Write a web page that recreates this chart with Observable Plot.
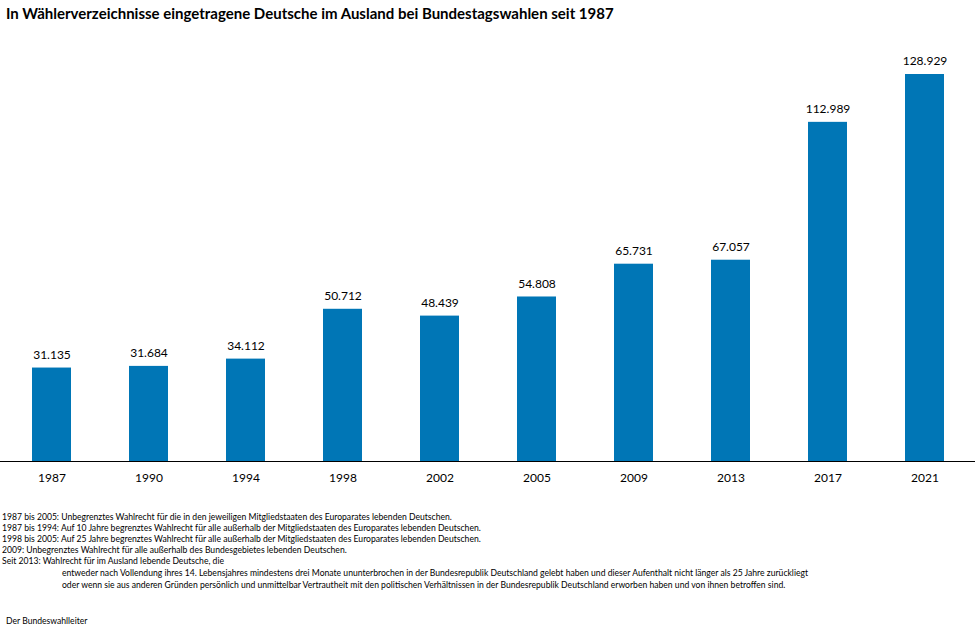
<!DOCTYPE html>
<html><head><meta charset="utf-8">
<script src="https://cdn.jsdelivr.net/npm/d3@7"></script>
<script src="https://cdn.jsdelivr.net/npm/@observablehq/plot@0.6"></script>
<style>
body{margin:0;background:#fff;font-family:Lato,"Open Sans",sans-serif;color:#000;width:975px;height:630px;position:relative;overflow:hidden}
#title{position:absolute;left:6px;top:4px;font-weight:bold;font-size:15px;white-space:nowrap;font-family:Lato,sans-serif}
#chart{position:absolute;left:0;top:30px}
.fn{position:absolute;font-size:8.6px;white-space:nowrap;font-family:Lato,sans-serif;color:#000}
</style></head>
<body>
<div id="title">In Wählerverzeichnisse eingetragene Deutsche im Ausland bei Bundestagswahlen seit 1987</div>
<div id="chart"></div>
<div id="notes"></div>
<script>
const years = ["1987","1990","1994","1998","2002","2005","2009","2013","2017","2021"];
const voters = [31135,31684,34112,50712,48439,54808,65731,67057,112989,128929];
const notes = [
  "1987 bis 2005: Unbegrenztes Wahlrecht  für die in den jeweiligen  Mitgliedstaaten  des Europarates lebenden Deutschen.",
  "1987 bis 1994: Auf 10 Jahre begrenztes Wahlrecht für alle außerhalb der Mitgliedstaaten  des Europarates lebenden Deutschen.",
  "1998 bis 2005: Auf 25 Jahre begrenztes Wahlrecht für alle außerhalb der Mitgliedstaaten  des Europarates lebenden Deutschen.",
  "2009: Unbegrenztes Wahlrecht  für alle außerhalb des Bundesgebietes lebenden Deutschen.",
  "Seit 2013: Wahlrecht für im Ausland lebende Deutsche, die"
];
const subnotes = [
  "entweder nach Vollendung ihres 14. Lebensjahres mindestens drei Monate ununterbrochen in der Bundesrepublik Deutschland gelebt haben und dieser Aufenthalt nicht länger als 25 Jahre zurückliegt",
  "oder wenn sie aus anderen Gründen persönlich und unmittelbar Vertrautheit mit den politischen Verhältnissen in der Bundesrepublik Deutschland erworben haben und von ihnen betroffen sind."
];
const source = "Der Bundeswahlleiter";

const de = d3.formatLocale({decimal: ",", thousands: ".", grouping: [3], currency: ["", " €"]});
const fmt = de.format(",d");
const data = years.map((y, i) => ({year: y, value: voters[i]}));

const plot = Plot.plot({
  width: 975,
  height: 455,
  marginLeft: 0,
  marginRight: 0,
  marginTop: 44,
  marginBottom: 24,
  style: {fontFamily: "Lato, sans-serif", fontSize: "12px", color: "#000", background: "#fff"},
  x: {domain: years, paddingInner: 0.6, paddingOuter: 0.3, label: null, tickSize: 0, tickPadding: 12},
  y: {domain: [0, d3.max(voters)], axis: null},
  marks: [
    Plot.barY(data, {x: "year", y: "value", fill: "#0076b6"}),
    Plot.text(data, {x: "year", y: "value", text: d => fmt(d.value), dy: -13, fontSize: 12, fill: "#000"}),
    Plot.ruleY([0], {stroke: "#000", strokeWidth: 1.2})
  ]
});
document.getElementById("chart").appendChild(plot);

const nd = document.getElementById("notes");
notes.forEach((t, i) => {
  const d = document.createElement("div");
  d.className = "fn"; d.textContent = t;
  d.style.left = "2px"; d.style.top = (512 + i * 11) + "px";
  nd.appendChild(d);
});
subnotes.forEach((t, i) => {
  const d = document.createElement("div");
  d.className = "fn"; d.textContent = t;
  d.style.left = "62px"; d.style.top = (568 + i * 11.5) + "px";
  nd.appendChild(d);
});
const s = document.createElement("div");
s.className = "fn"; s.textContent = source;
s.style.left = "6px"; s.style.top = "616px";
nd.appendChild(s);
</script>
</body></html>
